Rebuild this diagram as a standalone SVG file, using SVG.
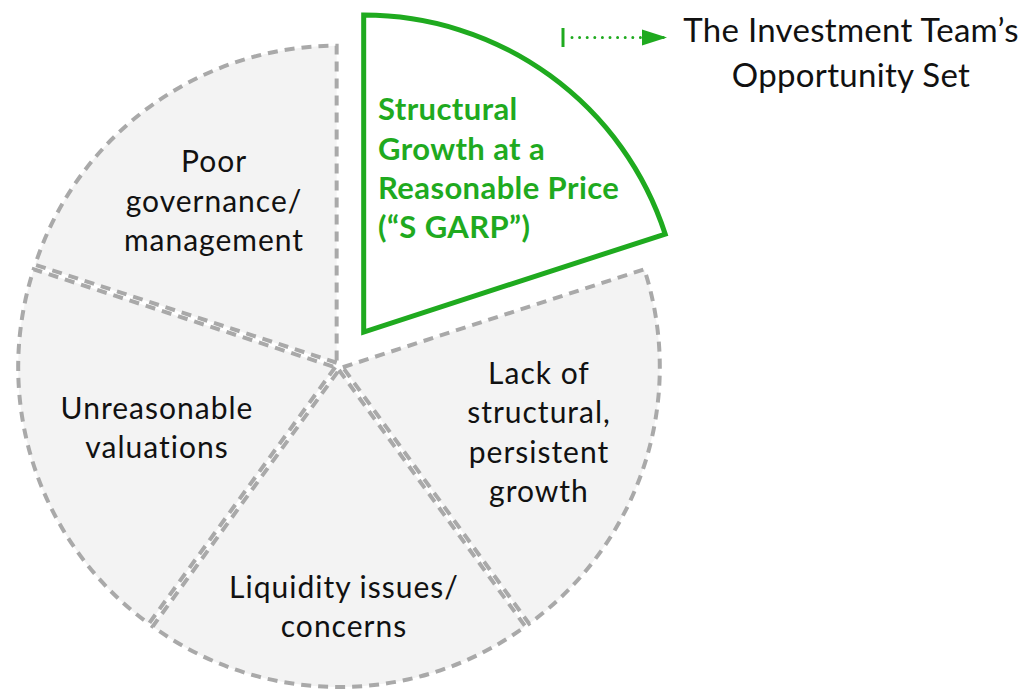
<svg xmlns="http://www.w3.org/2000/svg" width="1028" height="690" viewBox="0 0 1028 690">
<style>
.slice{fill:#f3f3f3;stroke:#a9a9a9;stroke-width:4;stroke-dasharray:10 7;stroke-linejoin:miter}
.lbl{font-family:Lato,"Liberation Sans",sans-serif;font-size:30px;letter-spacing:1px;fill:#111;text-anchor:middle}
.glbl{font-family:Lato,"Liberation Sans",sans-serif;font-size:31px;letter-spacing:0.4px;font-weight:bold;fill:#1faa1f}
.title{font-family:Lato,"Liberation Sans",sans-serif;font-size:33px;letter-spacing:0.3px;fill:#111;text-anchor:middle}
</style>
<defs>
<marker id="ah" markerWidth="26" markerHeight="18" refX="25" refY="9" orient="auto" markerUnits="userSpaceOnUse">
<path d="M0,1 L25,9 L0,17 Z" fill="#1faa1f"/>
</marker>
</defs>
<rect width="1028" height="690" fill="#fff"/>
<g id="poor">
<path class="slice" d="M336.65,362.76 L35.16,264.80 A317,317 0 0 1 336.65,45.76 Z"/>
<text class="lbl" x="214" y="172">Poor</text>
<text class="lbl" x="214" y="212">governance/</text>
<text class="lbl" x="214" y="251">management</text>
</g>
<g id="unreasonable">
<path class="slice" d="M335.20,367.24 L148.87,623.70 A317,317 0 0 1 33.71,269.28 Z"/>
<text class="lbl" x="157" y="419">Unreasonable</text>
<text class="lbl" x="157" y="458">valuations</text>
</g>
<g id="liquidity">
<path class="slice" d="M339,370 L525.33,626.46 A317,317 0 0 1 152.67,626.46 Z"/>
<text class="lbl" x="344" y="598">Liquidity issues/</text>
<text class="lbl" x="344" y="637">concerns</text>
</g>
<g id="lack">
<path class="slice" d="M342.80,367.24 L644.29,269.28 A317,317 0 0 1 529.13,623.70 Z"/>
<text class="lbl" x="539" y="384">Lack of</text>
<text class="lbl" x="539" y="423">structural,</text>
<text class="lbl" x="539" y="463">persistent</text>
<text class="lbl" x="539" y="502">growth</text>
</g>
<g id="sgarp">
<path d="M363.69,332.02 L363.69,15.02 A317,317 0 0 1 665.18,234.06 Z" fill="#fff" stroke="#1faa1f" stroke-width="5" stroke-linejoin="miter"/>
<text class="glbl" x="378" y="120">Structural</text>
<text class="glbl" x="378" y="160">Growth at a</text>
<text class="glbl" x="378" y="199">Reasonable Price</text>
<text class="glbl" x="378" y="238">(“S GARP”)</text>
</g>
<g id="connectors">
<line x1="563" y1="28" x2="563" y2="47" stroke="#1faa1f" stroke-width="3"/>
<line x1="572" y1="37.5" x2="667" y2="37.5" stroke="#1faa1f" stroke-width="3" stroke-linecap="round" stroke-dasharray="0 7.6" marker-end="url(#ah)"/>
</g>
<g id="title">
<text class="title" x="851" y="42">The Investment Team’s</text>
<text class="title" x="851" y="87">Opportunity Set</text>
</g>
</svg>
